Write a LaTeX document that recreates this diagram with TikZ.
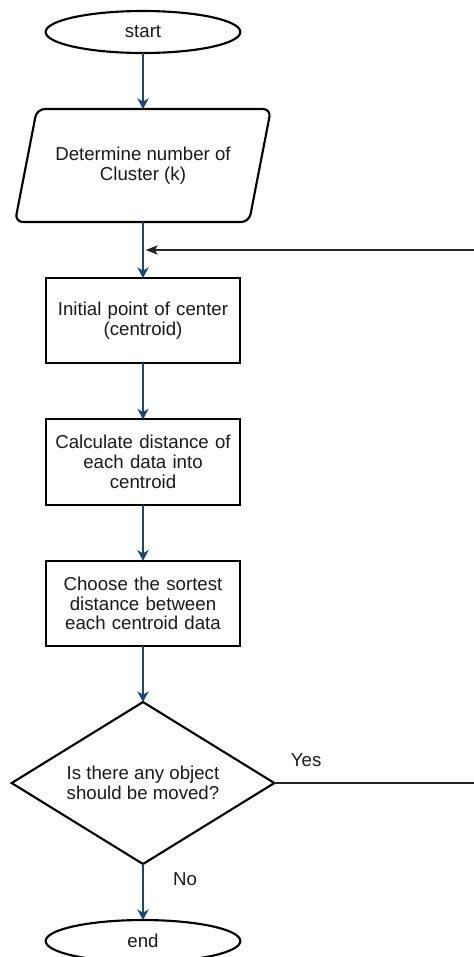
\documentclass[tikz,border=0pt]{standalone}
\usepackage{fontspec}
\setmainfont{Liberation Sans}
\usepackage{xcolor}
\usepackage{tikz}
\usetikzlibrary{
    positioning,
    arrows.meta,
    shapes.geometric
}
\definecolor{flowBlue}{RGB}{24, 72, 122}
\definecolor{flowText}{RGB}{25, 25, 30}
\tikzset{
    % common node look
    base/.style={
        draw=black,
        line width=1.6pt,
        fill=white,
        text=flowText,
        align=center,
        inner sep=0pt,
        outer sep=0pt,
        font=\fontsize{14}{14.8}\selectfont
    },
    % start / end
    terminal/.style={
        base,
        ellipse,
        minimum width=146pt,
        minimum height=31.5pt
    },
    % input (parallelogram)
    io/.style={
        base,
        trapezium,
        trapezium left angle=64,
        trapezium right angle=116,
        trapezium stretches=true,
        rounded corners=6pt,
        minimum width=192pt,
        minimum height=84.75pt
    },
    % process box
    process/.style={
        base,
        rectangle,
        text width=136pt,
        minimum width=146pt,
        minimum height=64pt
    },
    % decision
    decision/.style={
        base,
        diamond,
        aspect=1.62,
        minimum width=197pt,
        minimum height=121.5pt
    },
    % blue flow arrow
    arrow/.style={
        -{Stealth[length=8pt, width=8.5pt, inset=2.5pt]},
        color=flowBlue,
        line width=1.2pt
    },
    % black loop line
    backline/.style={
        color=black!85,
        line width=0.9pt
    },
    % yes / no text
    tag/.style={
        inner sep=0pt,
        text=flowText,
        font=\fontsize{14}{14.8}\selectfont
    }
}

\begin{document}
\begin{tikzpicture}[x=0.75pt, y=-0.75pt, node distance=42pt]

    \useasboundingbox (0,0) rectangle (474,957);

    % [1] start
    \node[terminal] (start) at (143,32) {start};

    % [2] number of clusters
    \node[io, below=of start] (det) {Determine number of\\Cluster (k)};

    % [3] centroid
    \node[process, below=of det] (init) {Initial point of center\\(centroid)};

    % [4] distance
    \node[process, below=of init] (dist) {Calculate distance of\\each data into\\centroid};

    % [5] grouping
    \node[process, below=of dist] (group) {Choose the sortest\\distance between\\each centroid data};

    % [6] check
    \node[decision, below=of group] (move) {Is there any object\\should be moved?};

    % [7] end
    \node[terminal, below=of move] (end) {end};

    % loop ends at the right edge
    \coordinate (loopin) at (474,250);
    \coordinate (loopout) at (move.east -| loopin);

    % arrows
    \draw[arrow] (start) -- (det);
    \draw[arrow] (det) -- (init);
    \draw[arrow] (init) -- (dist);
    \draw[arrow] (dist) -- (group);
    \draw[arrow] (group) -- (move);
    \draw[arrow] (move) -- node[tag, anchor=north west, pos=0, xshift=22pt, yshift=-6pt] {No} (end);

    % loop back (Yes)
    \draw[backline] (move.east) -- node[tag, anchor=south west, pos=0, xshift=12pt, yshift=12pt] {Yes} (loopout);
    \draw[backline, -{Stealth[length=9pt, width=7pt, inset=2pt]}, shorten >=2pt]
        (loopin) -- (loopin -| init.north);

\end{tikzpicture}
\end{document}
